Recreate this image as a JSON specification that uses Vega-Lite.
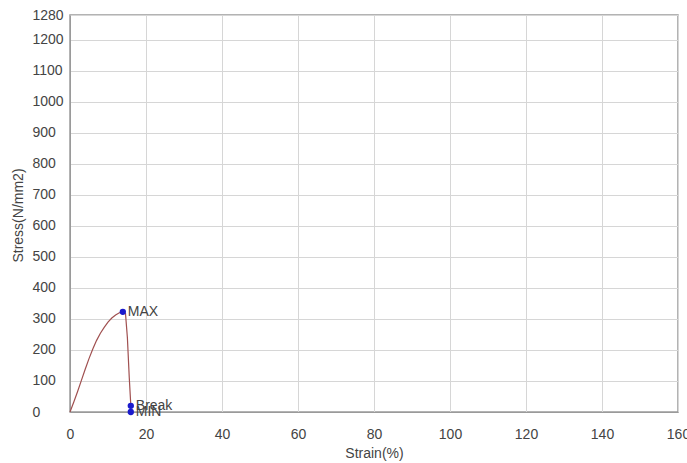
{
  "$schema": "https://vega.github.io/schema/vega-lite/v6.json",
  "width": 608,
  "height": 397,
  "autosize": {"type": "none"},
  "padding": {"left": 70, "top": 15, "right": 9, "bottom": 51},
  "background": "white",
  "config": {
    "font": "Liberation Sans",
    "view": {"stroke": "#9a9a9a", "strokeWidth": 1.5},
    "axis": {
      "labelFont": "Liberation Sans",
      "titleFont": "Liberation Sans",
      "labelColor": "#444444",
      "titleColor": "#444444",
      "labelFontSize": 14,
      "titleFontSize": 14,
      "titleFontWeight": "normal",
      "gridColor": "#d6d6d6",
      "gridWidth": 1,
      "domainColor": "#9a9a9a",
      "ticks": false,
      "labelOverlap": false
    }
  },
  "datasets": {
    "curve": [
      {"strain": 0, "stress": 0},
      {"strain": 1, "stress": 32},
      {"strain": 2, "stress": 66},
      {"strain": 3, "stress": 102},
      {"strain": 4, "stress": 138},
      {"strain": 5, "stress": 172},
      {"strain": 6, "stress": 203},
      {"strain": 7, "stress": 231},
      {"strain": 8, "stress": 254},
      {"strain": 9, "stress": 273},
      {"strain": 10, "stress": 290},
      {"strain": 11, "stress": 303},
      {"strain": 12, "stress": 313},
      {"strain": 13, "stress": 320},
      {"strain": 13.9, "stress": 323},
      {"strain": 14.6, "stress": 318},
      {"strain": 15.1, "stress": 240},
      {"strain": 15.6, "stress": 110},
      {"strain": 16, "stress": 22}
    ],
    "marks": [
      {"strain": 13.9, "stress": 323, "label": "MAX"},
      {"strain": 16, "stress": 20, "label": "Break"},
      {"strain": 16, "stress": 0, "label": "MIN"}
    ]
  },
  "encoding": {
    "x": {
      "field": "strain", "type": "quantitative",
      "scale": {"domain": [0, 160], "nice": false},
      "axis": {"values": [0, 20, 40, 60, 80, 100, 120, 140, 160], "format": "d", "title": "Strain(%)", "labelPadding": 15, "titlePadding": 5, "labelFlush": false}
    },
    "y": {
      "field": "stress", "type": "quantitative",
      "scale": {"domain": [0, 1280], "nice": false},
      "axis": {"values": [0, 100, 200, 300, 400, 500, 600, 700, 800, 900, 1000, 1100, 1200, 1280], "format": "d", "title": "Stress(N/mm2)", "labelAlign": "left", "labelPadding": 38, "titleX": -45, "titleY": 200, "labelFlush": false}
    }
  },
  "layer": [
    {
      "data": {"name": "curve"},
      "mark": {"type": "line", "color": "#a05050", "strokeWidth": 1.2}
    },
    {
      "data": {"name": "marks"},
      "mark": {"type": "point", "filled": true, "color": "#1a1acc", "size": 40, "opacity": 1}
    },
    {
      "data": {"name": "marks"},
      "mark": {"type": "text", "align": "left", "dx": 5, "fontSize": 14, "color": "#444444", "font": "Liberation Sans"},
      "encoding": {
        "text": {"field": "label"}
      }
    }
  ]
}
